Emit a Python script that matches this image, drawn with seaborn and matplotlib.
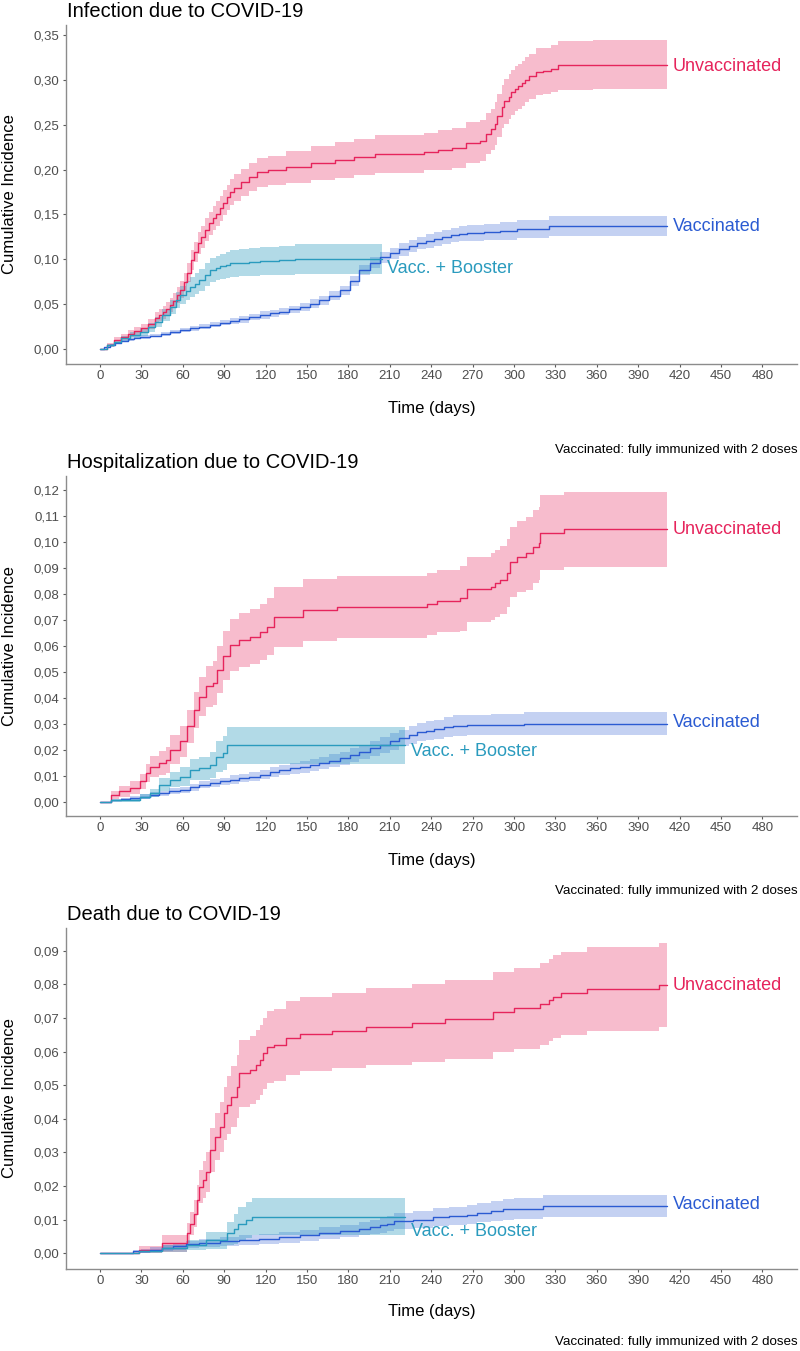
import numpy as np
import pandas as pd
import matplotlib
matplotlib.use("Agg")
import matplotlib.pyplot as plt
import seaborn as sns
from matplotlib.ticker import FuncFormatter

# ---------------- data ----------------
# For every curve: time knots (days), cumulative-incidence estimate and the
# half-width of its confidence band.
groups = ["Unvaccinated", "Vaccinated", "Vacc. + Booster"]
x_ticks = list(range(0, 481, 30))

# Panel 1: Infection
inf_unv_t = [0, 5, 10, 15, 20, 25, 30, 35, 40, 43, 46, 48, 51, 53, 56, 58, 61, 63, 66, 68, 71, 73, 76, 79, 82, 84, 87, 89, 92, 94, 97, 102, 108, 114, 122, 135, 153, 170, 184, 199, 235, 245, 255, 265, 275, 280, 283, 286, 288, 291, 293, 296, 298, 301, 303, 306, 308, 311, 316, 321, 327, 332, 357, 411]
inf_unv_est = [0, .005, .010, .013, .017, .020, .023, .028, .035, .038, .041, .045, .049, .054, .060, .066, .075, .085, .099, .108, .118, .125, .133, .140, .146, .151, .157, .163, .169, .175, .180, .186, .192, .197, .199, .203, .207, .211, .214, .217, .220, .222, .224, .230, .232, .240, .245, .251, .260, .270, .276, .281, .286, .290, .293, .296, .300, .304, .309, .310, .3125, .316, .317, .317]
inf_unv_ci = [0, .002, .003, .0035, .004, .0045, .005, .0055, .006, .0065, .007, .0075, .008, .0085, .009, .0095, .010, .0105, .011, .0115, .012, .0125, .013, .013, .013, .0135, .014, .014, .014, .0145, .015, .015, .0155, .016, .016, .0175, .019, .020, .020, .021, .021, .022, .022, .023, .023, .023, .023, .024, .024, .024, .025, .025, .025, .025, .025, .025, .025, .025, .026, .026, .026, .027, .027, .027]

inf_vac_t = [0, 3, 7, 11, 15, 20, 25, 29, 36, 44, 51, 58, 65, 72, 80, 87, 94, 101, 108, 116, 123, 130, 137, 145, 152, 159, 166, 174, 181, 188, 196, 203, 210, 217, 224, 230, 236, 242, 248, 254, 260, 266, 278, 290, 302, 319, 325, 411]
inf_vac_est = [0, .002, .0045, .007, .009, .011, .0125, .0137, .015, .0167, .0188, .021, .023, .025, .0272, .0293, .031, .033, .0355, .0379, .0398, .0416, .0442, .047, .0505, .0546, .0595, .0657, .076, .088, .096, .102, .1065, .111, .115, .118, .1205, .1225, .125, .127, .1285, .1295, .1306, .1317, .1333, .134, .137, .137]
inf_vac_ci = [0, .0005, .001, .0012, .0015, .0017, .0018, .002, .002, .002, .0022, .0025, .0027, .003, .003, .003, .0032, .0035, .0037, .004, .004, .004, .0042, .0045, .0047, .005, .005, .005, .0055, .006, .006, .006, .0065, .007, .007, .007, .0075, .008, .008, .008, .0085, .009, .009, .010, .010, .010, .011, .011]

inf_boo_t = [0, 5, 10, 15, 22, 29, 35, 40, 45, 51, 55, 58, 62, 65, 69, 72, 76, 80, 84, 87, 91, 94, 101, 108, 116, 130, 141, 204]
inf_boo_est = [0, .004, .008, .012, .016, .019, .024, .030, .038, .047, .055, .060, .065, .069, .073, .077, .083, .088, .090, .0924, .094, .0954, .096, .097, .098, .0988, .100, .100]
inf_boo_ci = [0, .0015, .002, .003, .0035, .004, .005, .006, .007, .008, .009, .010, .0105, .011, .0115, .012, .0125, .013, .0135, .014, .0145, .015, .015, .0155, .016, .016, .0165, .0165]

# Panel 2: Hospitalization
hos_unv_t = [0, 8, 14, 22, 29, 33, 36, 43, 48, 51, 58, 63, 68, 72, 77, 82, 85, 89, 94, 101, 109, 116, 121, 126, 147, 172, 237, 244, 261, 266, 283, 286, 290, 295, 297, 302, 309, 314, 318, 319, 336, 411]
hos_unv_est = [0, .0027, .004, .0053, .0078, .011, .0135, .0149, .016, .020, .0232, .029, .0354, .0405, .0444, .0456, .0508, .0562, .0604, .0623, .0636, .0655, .0674, .071, .0738, .0749, .076, .0773, .0783, .0818, .0828, .0841, .0854, .088, .0924, .0944, .0957, .0982, .0995, .1036, .1049, .1049]
hos_unv_ci = [0, .0015, .002, .0025, .003, .0035, .004, .0045, .005, .0055, .006, .0065, .007, .0075, .008, .0085, .009, .0095, .010, .0103, .0106, .0108, .011, .0115, .0118, .012, .012, .012, .0125, .0125, .013, .013, .013, .013, .0135, .0135, .014, .014, .014, .0145, .0145, .0145]

hos_vac_t = [0, 8, 15, 22, 29, 36, 43, 50, 58, 65, 72, 80, 87, 94, 101, 108, 116, 123, 130, 138, 145, 152, 159, 166, 174, 181, 188, 196, 203, 210, 217, 224, 230, 236, 242, 249, 256, 266, 283, 307, 411]
hos_vac_est = [0, .0005, .001, .0015, .002, .0027, .0033, .004, .0046, .0055, .0065, .0072, .0078, .0085, .0091, .0097, .0104, .0114, .0123, .0128, .0133, .0141, .0149, .0158, .0168, .0179, .019, .0205, .0219, .0232, .0245, .0256, .0268, .0274, .0279, .0287, .0293, .0295, .0297, .030, .030]
hos_vac_ci = [0, .0003, .0005, .0007, .0008, .0009, .001, .0011, .0012, .0013, .0014, .0014, .0015, .0016, .0017, .0017, .0018, .0019, .002, .0021, .0022, .0022, .0023, .0024, .0025, .0026, .0027, .0028, .003, .0031, .0032, .0034, .0035, .0036, .0037, .0039, .004, .004, .0042, .0045, .0045]

hos_boo_t = [0, 8, 29, 36, 43, 51, 58, 65, 72, 80, 84, 89, 92, 221]
hos_boo_est = [0, .0005, .002, .0033, .0065, .0085, .0097, .0123, .0129, .0142, .0174, .0187, .0217, .0217]
hos_boo_ci = [0, .0005, .001, .0015, .0025, .003, .0035, .004, .0045, .005, .006, .0065, .0072, .0072]

# Panel 3: Death
dea_unv_t = [0, 28, 45, 63, 65, 68, 70, 72, 75, 77, 80, 83, 87, 90, 92, 95, 99, 101, 109, 113, 116, 118, 121, 126, 135, 145, 168, 193, 226, 250, 285, 300, 319, 325, 328, 334, 353, 405, 411]
dea_unv_est = [0, .0009, .0029, .0059, .0088, .0118, .0158, .0198, .0218, .0242, .0307, .0347, .0376, .0416, .0441, .0466, .0496, .0535, .0545, .056, .0575, .0595, .0615, .062, .064, .0652, .0662, .0674, .0686, .0696, .0719, .0729, .0742, .0754, .0764, .0774, .0786, .0798, .0798]
dea_unv_ci = [0, .0012, .0025, .003, .0035, .004, .0045, .005, .0055, .006, .0065, .007, .0075, .008, .0085, .009, .0095, .010, .0102, .0104, .0105, .0106, .0107, .0108, .011, .011, .0112, .0114, .0116, .0117, .0119, .012, .0121, .0122, .0123, .0124, .0125, .0126, .0126]

dea_vac_t = [0, 24, 30, 36, 45, 53, 62, 72, 87, 101, 115, 130, 145, 159, 174, 188, 196, 203, 208, 213, 227, 241, 253, 266, 273, 283, 292, 300, 321, 411]
dea_vac_est = [0, .0006, .0008, .0011, .0016, .0021, .0026, .0031, .0035, .0039, .0043, .0047, .0053, .0059, .0066, .0073, .0078, .0083, .0088, .0096, .010, .0108, .0111, .0115, .0121, .0125, .0131, .0133, .014, .014]
dea_vac_ci = [0, .0005, .0006, .0008, .0009, .001, .0011, .0012, .0013, .0014, .0015, .0016, .0017, .0018, .0019, .002, .0021, .0022, .0023, .0024, .0025, .0026, .0027, .0028, .0029, .003, .0031, .0032, .0033, .0034]

dea_boo_t = [0, 28, 45, 63, 77, 92, 97, 100, 106, 110, 221]
dea_boo_est = [0, .0006, .0015, .0024, .0039, .0059, .0073, .0088, .0098, .0108, .0108]
dea_boo_ci = [0, .0005, .001, .0015, .0025, .0035, .0045, .005, .0053, .0055, .0056]

titles = ["Infection due to COVID-19", "Hospitalization due to COVID-19", "Death due to COVID-19"]
caption = "Vaccinated: fully immunized with 2 doses"

# ---------------- style ----------------
sns.set_theme(style="white")
plt.rcParams["font.family"] = ["Liberation Sans", "DejaVu Sans"]

line_colors = {"Unvaccinated": "#E6245C", "Vaccinated": "#2B5BD2", "Vacc. + Booster": "#2A9BBE"}
fill_alpha = {"Unvaccinated": 0.30, "Vaccinated": 0.28, "Vacc. + Booster": 0.36}

W, H = 800, 1351
fig = plt.figure(figsize=(W / 100, H / 100), dpi=100)


def fx(px):
    return px / W


def fy(py):
    return 1 - py / H


panel_series = [
    [(inf_unv_t, inf_unv_est, inf_unv_ci),
     (inf_vac_t, inf_vac_est, inf_vac_ci),
     (inf_boo_t, inf_boo_est, inf_boo_ci)],
    [(hos_unv_t, hos_unv_est, hos_unv_ci),
     (hos_vac_t, hos_vac_est, hos_vac_ci),
     (hos_boo_t, hos_boo_est, hos_boo_ci)],
    [(dea_unv_t, dea_unv_est, dea_unv_ci),
     (dea_vac_t, dea_vac_est, dea_vac_ci),
     (dea_boo_t, dea_boo_est, dea_boo_ci)],
]

layout = [
    dict(top=25, bottom=364, ylim=(-0.0167, 0.3611), ystep=0.05, ymax=0.35,
         title_base=17, xlab_y=408, cap_y=450,
         label_y={"Unvaccinated": 0.315, "Vaccinated": 0.136, "Vacc. + Booster": 0.090}),
    dict(top=476, bottom=816, ylim=(-0.0055, 0.1254), ystep=0.01, ymax=0.12,
         title_base=468, xlab_y=860, cap_y=891,
         label_y={"Unvaccinated": 0.1049, "Vaccinated": 0.0305, "Vacc. + Booster": 0.0193}),
    dict(top=928, bottom=1269, ylim=(-0.0047, 0.0968), ystep=0.01, ymax=0.09,
         title_base=920.5, xlab_y=1311.5, cap_y=1342,
         label_y={"Unvaccinated": 0.0796, "Vaccinated": 0.0146, "Vacc. + Booster": 0.0066}),
]

AX_L, AX_R = 66, 797
comma_fmt = FuncFormatter(lambda v, p: f"{v:.2f}".replace(".", ","))

for i, (series, lay) in enumerate(zip(panel_series, layout)):
    ax = fig.add_axes([fx(AX_L), fy(lay["bottom"]), fx(AX_R - AX_L),
                       (lay["bottom"] - lay["top"]) / H])
    rows = []
    for g, (t, est, ci) in zip(groups, series):
        est_a = np.asarray(est, dtype=float)
        ci_a = np.asarray(ci, dtype=float)
        lo = np.clip(est_a - ci_a, 0, None)
        hi = est_a + ci_a
        ax.fill_between(t, lo, hi, step="post", color=line_colors[g],
                        alpha=fill_alpha[g], linewidth=0, zorder=1)
        rows.append(pd.DataFrame({"t": t, "est": est, "group": g}))
    df = pd.concat(rows, ignore_index=True)
    sns.lineplot(data=df, x="t", y="est", hue="group", hue_order=groups,
                 palette=line_colors, estimator=None, drawstyle="steps-post",
                 linewidth=1.0, legend=False, ax=ax, zorder=3)

    for g, (t, est, ci) in zip(groups, series):
        ax.text(t[-1] + 4, lay["label_y"][g], g, color=line_colors[g],
                fontsize=13, ha="left", va="center")

    ax.set_xlim(-24.6, 505)
    ax.set_ylim(*lay["ylim"])
    ax.set_xticks(x_ticks)
    ax.set_yticks(np.round(np.arange(0, lay["ymax"] + 1e-9, lay["ystep"]), 3))
    ax.yaxis.set_major_formatter(comma_fmt)
    ax.set_xlabel("")
    ax.set_ylabel("")
    for s in ["top", "right"]:
        ax.spines[s].set_visible(False)
    for s in ["left", "bottom"]:
        ax.spines[s].set_color("#8C8C8C")
        ax.spines[s].set_linewidth(1.0)
    ax.tick_params(axis="both", which="major", length=2.5, width=0.8,
                   color="#5A5A5A", labelcolor="#4D4D4D", labelsize=9.5, pad=2,
                   left=True, bottom=True)
    ax.grid(False)
    ax.set_facecolor("white")

    fig.text(fx(67), fy(lay["title_base"]), titles[i], fontsize=14.5,
             ha="left", va="baseline", color="black")
    fig.text(fx(9.5), fy((lay["top"] + lay["bottom"]) / 2), "Cumulative Incidence",
             rotation=90, fontsize=12, ha="center", va="center", color="black")
    fig.text(fx((AX_L + AX_R) / 2), fy(lay["xlab_y"]), "Time (days)", fontsize=12,
             ha="center", va="center", color="black")
    fig.text(fx(798), fy(lay["cap_y"]), caption, fontsize=9.6, ha="right",
             va="center", color="black")

fig.savefig("out.png", dpi=100, facecolor="white")
